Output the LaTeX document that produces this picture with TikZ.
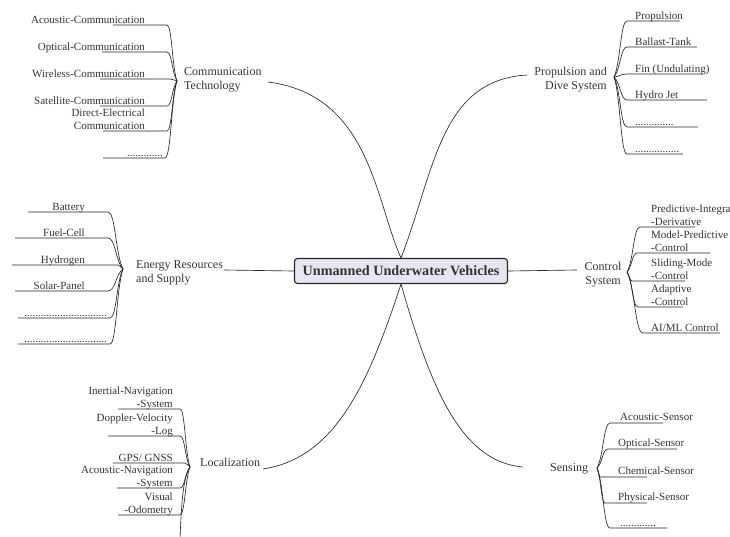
\documentclass[tikz,border=0pt]{standalone}
\usepackage{fontspec}
\setmainfont{Liberation Serif}
\definecolor{txt}{HTML}{333333}
\definecolor{ln}{HTML}{262626}
\definecolor{boxfill}{HTML}{E6E6F2}
% left-hand child: name, xL, xR, y, fan, Fx, Fy
\newcommand\lkid[7]{%
  \pgfmathsetmacro\kxa{#3+0.5*(#6-#3)}%
  \pgfmathsetmacro\kyb{#7-0.25*(#7-#4)}%
  \coordinate (#1) at (#2,#4);
  \draw[conn] (#1) -- (#3,#4) .. controls (\kxa,#4) and (\kxa,\kyb) .. (#5);
}
% right-hand child: name, xL, xR, y, fan, Fx, Fy
\newcommand\rkid[7]{%
  \pgfmathsetmacro\kxa{#6+0.5*(#2-#6)}%
  \pgfmathsetmacro\kya{#7+0.25*(#4-#7)}%
  \coordinate (#1) at (#3,#4);
  \draw[conn] (#5) .. controls (\kxa,\kya) and (\kxa,#4) .. (#2,#4) -- (#1);
}
\begin{document}
\begin{tikzpicture}[x=1pt,y=-1pt,
  conn/.style={draw=ln, line width=0.65pt},
  kid/.style={inner sep=0pt, text depth=0pt, text=txt, font=\fontsize{11}{12.5}\selectfont},
  branch/.style={inner sep=0pt, text depth=0pt, text=txt, font=\fontsize{12}{14}\selectfont}]
\useasboundingbox (0,0) rectangle (730,537);
\clip (0,0) rectangle (730,537);

% central node
\node[draw=ln, line width=1.1pt, fill=boxfill, rounded corners=3pt,
      minimum width=213pt, minimum height=25pt, inner sep=0pt,
      font=\fontsize{14.2}{16}\selectfont\bfseries, text=txt] (uuv) at (401,271) {Unmanned Underwater Vehicles};

% branch end coordinates
\coordinate (cend) at (268,82);
\coordinate (pend) at (527,75);
\coordinate (eend) at (224,270);
\coordinate (kend) at (577,270);
\coordinate (lend) at (263,469);
\coordinate (send) at (523,467);

\draw[conn] (uuv.north) .. controls (375,200) and (370,95) .. (cend);
\draw[conn] (uuv.north) .. controls (435,170) and (440,80) .. (pend);
\draw[conn] (uuv.west) -- (eend);
\draw[conn] (uuv.east) -- (kend);
\draw[conn] (uuv.south) .. controls (368,385) and (335,458) .. (lend);
\draw[conn] (uuv.south) .. controls (430,385) and (460,462) .. (send);

% branch labels
\node[branch, align=left, anchor=south west] (comm) at (184,90) {Communication\\Technology};
\node[branch, align=right, anchor=south east] (prop) at (607,89.5) {Propulsion and\\Dive System};
\node[branch, align=left, anchor=south west] (ener) at (136,283) {Energy Resources\\and Supply};
\node[branch, align=center, anchor=south] (ctrl) at (603,285) {Control\\System};
\node[branch, anchor=south west] (loca) at (200,467) {Localization};
\node[branch, anchor=south west] (sens) at (550,472) {Sensing};

% fan points
\coordinate (cf) at (177,81);
\coordinate (pf) at (614,77);
\coordinate (ef) at (123,269);
\coordinate (kf) at (627,272);
\coordinate (lf) at (190,467);
\coordinate (sf) at (597,468);

% Communication children
\lkid{c1}{113}{167}{25}{cf}{177}{81}
\lkid{c2}{102}{167}{52}{cf}{177}{81}
\lkid{c3}{100}{170}{79}{cf}{177}{81}
\lkid{c4}{100}{167}{106}{cf}{177}{81}
\lkid{c5}{103}{167}{131}{cf}{177}{81}
\lkid{c6}{103}{165}{158}{cf}{177}{81}
\node[kid, anchor=south east] (tc1) at (145,23.5) {Acoustic-Communication};
\node[kid, anchor=south east] (tc2) at (145,50.5) {Optical-Communication};
\node[kid, anchor=south east] (tc3) at (145,77.5) {Wireless-Communication};
\node[kid, anchor=south east] (tc4) at (145,104.5) {Satellite-Communication};
\node[kid, align=right, anchor=south east] (tc5) at (145,129.5) {Direct-Electrical\\Communication};
\node[kid, anchor=south east] (tc6) at (163,156.5) {.............};

% Propulsion children
\rkid{p1}{627}{680}{21}{pf}{614}{77}
\rkid{p2}{627}{697}{47}{pf}{614}{77}
\rkid{p3}{627}{703}{74}{pf}{614}{77}
\rkid{p4}{627}{707}{100}{pf}{614}{77}
\rkid{p5}{627}{698}{127}{pf}{614}{77}
\rkid{p6}{627}{683}{154}{pf}{614}{77}
\node[kid, anchor=south west] (tp1) at (635,19.5) {Propulsion};
\node[kid, anchor=south west] (tp2) at (635,45.5) {Ballast-Tank};
\node[kid, anchor=south west] (tp3) at (635,72.5) {Fin (Undulating)};
\node[kid, anchor=south west] (tp4) at (635,98.5) {Hydro Jet};
\node[kid, anchor=south west] (tp5) at (635,125.5) {..............};
\node[kid, anchor=south west] (tp6) at (635,152.5) {................};

% Energy children
\lkid{e1}{28}{108}{212}{ef}{123}{269}
\lkid{e2}{15}{108}{238}{ef}{123}{269}
\lkid{e3}{12}{118}{265}{ef}{123}{269}
\lkid{e4}{15}{108}{291}{ef}{123}{269}
\lkid{e5}{18}{110}{318}{ef}{123}{269}
\lkid{e6}{18}{110}{344}{ef}{123}{269}
\node[kid, anchor=south east] (te1) at (85,210.5) {Battery};
\node[kid, anchor=south east] (te2) at (85,236.5) {Fuel-Cell};
\node[kid, anchor=south east] (te3) at (85,263.5) {Hydrogen};
\node[kid, anchor=south east] (te4) at (85,289.5) {Solar-Panel};
\node[kid, anchor=south east] (te5) at (107,316.5) {..............................};
\node[kid, anchor=south east] (te6) at (107,342.5) {..............................};

% Control children
\rkid{k1}{640}{695}{227}{kf}{627}{272}
\rkid{k2}{637}{710}{253}{kf}{627}{272}
\rkid{k3}{632}{685}{281}{kf}{627}{272}
\rkid{k4}{638}{683}{307}{kf}{627}{272}
\rkid{k5}{643}{720}{333}{kf}{627}{272}
\node[kid, align=left, anchor=south west] (tk1) at (651,225.5) {Predictive-Integra\\-Derivative};
\node[kid, align=left, anchor=south west] (tk2) at (651,251.5) {Model-Predictive\\-Control};
\node[kid, align=left, anchor=south west] (tk3) at (651,279.5) {Sliding-Mode\\-Control};
\node[kid, align=left, anchor=south west] (tk4) at (651,305.5) {Adaptive\\-Control};
\node[kid, anchor=south west] (tk5) at (651,331.5) {AI/ML Control};

% Localization children
\lkid{l1}{118}{180}{409}{lf}{190}{467}
\lkid{l2}{108}{180}{436}{lf}{190}{467}
\lkid{l3}{113}{185}{463}{lf}{190}{467}
\lkid{l4}{117}{180}{488}{lf}{190}{467}
\lkid{l5}{118}{180}{515}{lf}{190}{467}
\coordinate (l6) at (179,570);
\draw[conn] (lf) .. controls (183,478) and (181,500) .. (l6);
\node[kid, align=right, anchor=south east] (tl1) at (173,407.5) {Inertial-Navigation\\-System};
\node[kid, align=right, anchor=south east] (tl2) at (173,434.5) {Doppler-Velocity\\-Log};
\node[kid, anchor=south east] (tl3) at (173,461.5) {GPS/ GNSS};
\node[kid, align=right, anchor=south east] (tl4) at (173,486.5) {Acoustic-Navigation\\-System};
\node[kid, align=right, anchor=south east] (tl5) at (173,513.5) {Visual\\-Odometry};

% Sensing children
\rkid{s1}{610}{663}{423}{sf}{597}{468}
\rkid{s2}{608}{677}{449}{sf}{597}{468}
\rkid{s3}{600}{647}{477}{sf}{597}{468}
\rkid{s4}{605}{647}{503}{sf}{597}{468}
\rkid{s5}{610}{667}{528}{sf}{597}{468}
\node[kid, anchor=south west] (ts1) at (620,421) {Acoustic-Sensor};
\node[kid, anchor=south west] (ts2) at (618,447) {Optical-Sensor};
\node[kid, anchor=south west] (ts3) at (618,475) {Chemical-Sensor};
\node[kid, anchor=south west] (ts4) at (618,501) {Physical-Sensor};
\node[kid, anchor=south west] (ts5) at (620,526.5) {.............};
\end{tikzpicture}
\end{document}
